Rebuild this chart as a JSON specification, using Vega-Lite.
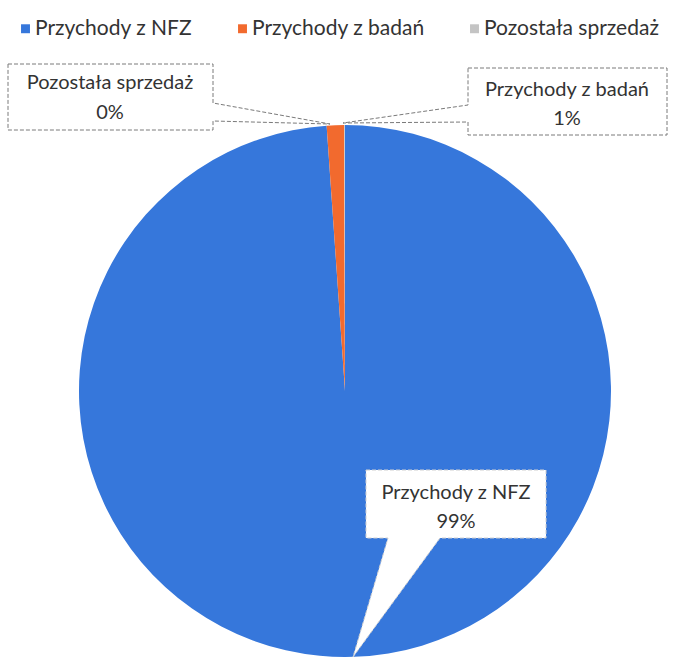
{
  "$schema": "https://vega.github.io/schema/vega-lite/v6.json",
  "width": 672,
  "height": 534,
  "autosize": "none",
  "padding": {"left": 9, "top": 124, "right": 0, "bottom": 0},
  "background": "white",
  "config": {"view": {"stroke": null}, "font": "Lato"},
  "data": {
    "values": [
      {"cat": "Przychody z NFZ", "value": 98.9, "pct": "99%"},
      {"cat": "Przychody z badań", "value": 1.05, "pct": "1%"},
      {"cat": "Pozostała sprzedaż", "value": 0.05, "pct": "0%"}
    ]
  },
  "layer": [
    {
      "mark": {"type": "arc", "radius": 266},
      "encoding": {
        "theta": {"field": "value", "type": "quantitative", "stack": true},
        "order": {"field": "value", "sort": "descending"},
        "color": {
          "field": "cat",
          "type": "nominal",
          "scale": {
            "domain": ["Przychody z NFZ", "Przychody z badań", "Pozostała sprzedaż"],
            "range": ["#3677db", "#f26a2e", "#c4c4c4"]
          },
          "legend": {
            "orient": "none",
            "legendX": 6,
            "legendY": -106,
            "direction": "horizontal",
            "title": null,
            "symbolType": "square",
            "symbolSize": 80,
            "labelFontSize": 21,
            "labelFont": "Lato",
            "labelColor": "#333333",
            "labelLimit": 400,
            "columnPadding": 39,
            "labelOffset": -1,
            "symbolStrokeWidth": 0,
            "padding": 0
          }
        }
      }
    },
    {
      "transform": [{"filter": "datum.cat === 'Pozostała sprzedaż'"}],
      "mark": {"type": "point", "shape": "M-3.37,-3.27L-1.32,-3.27L-1.32,-2.88L-0.15,-2.67L-1.32,-2.70L-1.32,-2.61L-3.37,-2.61Z", "size": 40000, "filled": true, "fill": "white", "stroke": "#7a7a7a", "strokeWidth": 1, "strokeDash": [4, 2], "opacity": 1},
      "encoding": {}
    },
    {
      "transform": [{"filter": "datum.cat === 'Przychody z badań'"}],
      "mark": {"type": "point", "shape": "M1.23,-3.23L3.22,-3.23L3.22,-2.56L1.23,-2.56L1.23,-2.69L-0.02,-2.68L1.23,-2.86Z", "size": 40000, "filled": true, "fill": "white", "stroke": "#7a7a7a", "strokeWidth": 1, "strokeDash": [4, 2], "opacity": 1},
      "encoding": {}
    },
    {
      "transform": [{"filter": "datum.cat === 'Przychody z NFZ'"}],
      "mark": {"type": "point", "shape": "M0.21,0.79L2.01,0.79L2.01,1.47L0.95,1.47L0.08,2.66L0.43,1.47L0.21,1.47Z", "size": 40000, "filled": true, "fill": "white", "stroke": "#d0d0d0", "strokeWidth": 1, "strokeDash": [4, 2], "opacity": 1},
      "encoding": {}
    },
    {
      "transform": [{"filter": "datum.cat === 'Pozostała sprzedaż'"}],
      "mark": {"type": "text", "dx": -235, "dy": -308, "fontSize": 20, "font": "Lato", "color": "#333333", "align": "center", "baseline": "middle"},
      "encoding": {"text": {"field": "cat"}}
    },
    {
      "transform": [{"filter": "datum.cat === 'Pozostała sprzedaż'"}],
      "mark": {"type": "text", "dx": -235, "dy": -278, "fontSize": 20, "font": "Lato", "color": "#333333", "align": "center", "baseline": "middle"},
      "encoding": {"text": {"field": "pct"}}
    },
    {
      "transform": [{"filter": "datum.cat === 'Przychody z badań'"}],
      "mark": {"type": "text", "dx": 222, "dy": -301, "fontSize": 20, "font": "Lato", "color": "#333333", "align": "center", "baseline": "middle"},
      "encoding": {"text": {"field": "cat"}}
    },
    {
      "transform": [{"filter": "datum.cat === 'Przychody z badań'"}],
      "mark": {"type": "text", "dx": 222, "dy": -272, "fontSize": 20, "font": "Lato", "color": "#333333", "align": "center", "baseline": "middle"},
      "encoding": {"text": {"field": "pct"}}
    },
    {
      "transform": [{"filter": "datum.cat === 'Przychody z NFZ'"}],
      "mark": {"type": "text", "dx": 111, "dy": 102, "fontSize": 20, "font": "Lato", "color": "#333333", "align": "center", "baseline": "middle"},
      "encoding": {"text": {"field": "cat"}}
    },
    {
      "transform": [{"filter": "datum.cat === 'Przychody z NFZ'"}],
      "mark": {"type": "text", "dx": 111, "dy": 131, "fontSize": 20, "font": "Lato", "color": "#333333", "align": "center", "baseline": "middle"},
      "encoding": {"text": {"field": "pct"}}
    }
  ]
}
